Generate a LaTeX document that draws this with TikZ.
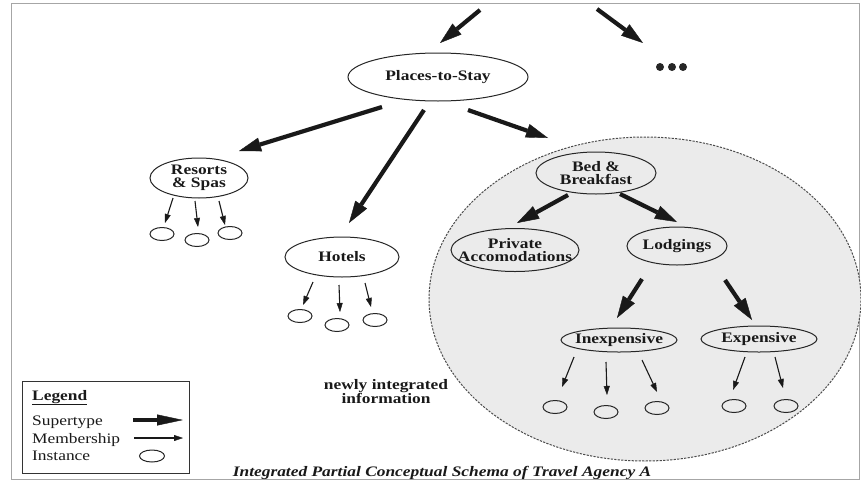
\documentclass[tikz,border=0pt]{standalone}
\usepackage{fontspec}
\setmainfont{Liberation Serif}[FakeStretch=1.2]
\usetikzlibrary{arrows.meta,shapes.geometric}
\newcommand{\zw}[1]{\makebox[0pt]{#1}}
\begin{document}
\begin{tikzpicture}[x=1pt,y=-1pt,
  ent/.style 2 args={ellipse, draw=black!85, line width=1pt, minimum width=#1pt, minimum height=#2pt, inner sep=0pt, align=center, text=black!90, font=\fontsize{14.5}{13}\selectfont\bfseries},
  inst/.style={ellipse, draw=black!85, line width=1pt, minimum width=24pt, minimum height=13pt, inner sep=0pt},
  sup/.style={draw=black!90, line width=4.2pt, -{Triangle[length=22pt,width=14pt,line width=0.4pt]}},
  legsup/.style={draw=black!90, line width=4.2pt, -{Triangle[length=26pt,width=11pt,line width=0.4pt]}},
  mem/.style={draw=black!90, line width=1.1pt, -{Triangle[length=9pt,width=6pt,line width=0.4pt]}},
  txt/.style={text=black!90, inner sep=0pt, font=\fontsize{14.5}{14}\selectfont},
]
\useasboundingbox (0,0) rectangle (861,482);
% frame
\draw[black!35, line width=1.3pt] (11.5,3.5) rectangle (859.5,479.5);

% newly integrated area
\node[ellipse, draw=black!70, fill=black!8, dash pattern=on 2.2pt off 1.3pt, line width=1pt,
      minimum width=432pt, minimum height=324pt, inner sep=0pt] (newinfo) at (645,299) {};

% entity nodes
\node[ent={180}{48}] (places) at (438,77) {\zw{Places-to-Stay}};
\node[ent={98}{40}] (resorts) at (199,178) {\zw{Resorts}\\\zw{\& Spas}};
\node[ent={114}{40}] (hotels) at (342,257) {\zw{Hotels}};
\node[ent={120}{42}] (bb) at (596,173) {\zw{Bed \&}\\\zw{Breakfast}};
\node[ent={128}{43}] (priv) at (515,250) {\zw{Private}\\\zw{Accomodations}};
\node[ent={100}{38}] (lodg) at (677,246) {\zw{Lodgings}};
\node[ent={116}{24}] (inexp) at (619,340) {\zw{Inexpensive}};
\node[ent={116}{26}] (exp) at (759,339) {\zw{Expensive}};

% instances
\node[inst] (r1) at (162,234) {};
\node[inst] (r2) at (197,240) {};
\node[inst] (r3) at (230,233) {};
\node[inst] (h1) at (300,316) {};
\node[inst] (h2) at (337,325) {};
\node[inst] (h3) at (375,320) {};
\node[inst] (i1) at (555,407) {};
\node[inst] (i2) at (606,412) {};
\node[inst] (i3) at (657,408) {};
\node[inst] (e1) at (734,406) {};
\node[inst] (e2) at (786,406) {};

% more (ellipsis)
\node[inner sep=0pt] (more) at (672,67) {};
\foreach \dx in {-12,0,11} \fill[black!85] ([xshift=\dx pt]more.center) circle (4pt);

% top arrows
\coordinate (topA) at (480,10);
\coordinate (topB) at (597,9);
\draw[sup] (topA) -- ([shift={(2,-34)}]places.center);
\draw[sup] (topB) -- ([shift={(-29,-24)}]more.center);

% supertype arrows
\draw[sup] ([shift={(-56,30)}]places.center) -- ([shift={(40,-27)}]resorts.center);
\draw[sup] ([shift={(-14,33)}]places.center) -- ([shift={(7,-34)}]hotels.center);
\draw[sup] ([shift={(30,33)}]places.center) -- ([shift={(-48,-35)}]bb.center);
\draw[sup] ([shift={(-28,22)}]bb.center) -- ([shift={(2,-27)}]priv.center);
\draw[sup] ([shift={(24,21)}]bb.center) -- ([shift={(0,-24)}]lodg.center);
\draw[sup] ([shift={(-35,33)}]lodg.center) -- ([shift={(-2,-22)}]inexp.center);
\draw[sup] ([shift={(48,34)}]lodg.center) -- ([shift={(-7,-19)}]exp.center);

% membership arrows
\draw[mem] ([shift={(-26,20)}]resorts.center) -- ([shift={(3,-11)}]r1.center);
\draw[mem] ([shift={(-4,23)}]resorts.center) -- ([shift={(1,-13)}]r2.center);
\draw[mem] ([shift={(20,23)}]resorts.center) -- ([shift={(-5,-8)}]r3.center);
\draw[mem] ([shift={(-29,25)}]hotels.center) -- ([shift={(3,-11)}]h1.center);
\draw[mem] ([shift={(-3,28)}]hotels.center) -- ([shift={(3,-13)}]h2.center);
\draw[mem] ([shift={(23,26)}]hotels.center) -- ([shift={(-4,-13)}]h3.center);
\draw[mem] ([shift={(-45,17)}]inexp.center) -- ([shift={(7,-20)}]i1.center);
\draw[mem] ([shift={(-13,22)}]inexp.center) -- ([shift={(1,-17)}]i2.center);
\draw[mem] ([shift={(23,20)}]inexp.center) -- ([shift={(0,-16)}]i3.center);
\draw[mem] ([shift={(-14,18)}]exp.center) -- ([shift={(-1,-16)}]e1.center);
\draw[mem] ([shift={(16,18)}]exp.center) -- ([shift={(-3,-18)}]e2.center);

% newly integrated label
\node[txt, align=center, font=\fontsize{14.5}{14}\selectfont\bfseries] (newlbl) at (386,392) {newly integrated\\information};

% legend
\node[draw=black!80, line width=1pt, minimum width=167pt, minimum height=92pt, inner sep=0pt, anchor=north west] (legend) at (22,381) {};
\node[txt, anchor=base west, font=\fontsize{14.5}{14}\selectfont\bfseries] (legtitle) at (32,400) {\underline{Legend}};
\node[txt, anchor=base west] (legsuptxt) at (32,425) {Supertype};
\node[txt, anchor=base west] (legmemtxt) at (32,443) {Membership};
\node[txt, anchor=base west] (leginsttxt) at (32,460) {Instance};
\coordinate (lsA) at (133,420);
\coordinate (lsB) at (183,420);
\coordinate (lmA) at (134,438);
\coordinate (lmB) at (183,438);
\draw[legsup] (lsA) -- (lsB);
\draw[mem] (lmA) -- (lmB);
\node[inst, minimum width=25pt, minimum height=12pt] (leginst) at (152,456) {};

% caption
\node[txt, anchor=base, font=\fontsize{14.5}{14}\selectfont\bfseries\itshape] (caption) at (442,476.5) {Integrated Partial Conceptual Schema of Travel Agency A};
\end{tikzpicture}
\end{document}
